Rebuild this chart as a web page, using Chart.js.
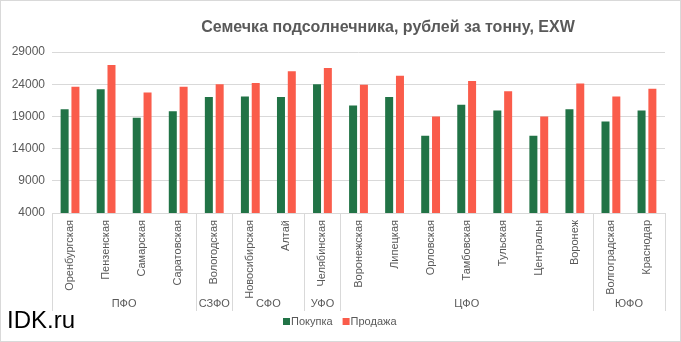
<!DOCTYPE html>
<html>
<head>
<meta charset="utf-8">
<script src="https://cdn.jsdelivr.net/npm/chart.js@4/dist/chart.umd.min.js"></script>
<style>
  html, body { margin: 0; padding: 0; background: #fff; }
  #wrap { width: 681px; height: 342px; position: relative; }
</style>
</head>
<body>
<div id="wrap"><canvas id="c"></canvas></div>
<script>
/* Семечка подсолнечника — покупка / продажа по регионам, EXW */
var TITLE = 'Семечка подсолнечника, рублей за тонну, EXW';
var regions = ['Оренбургская', 'Пензенская', 'Самарская', 'Саратовская', 'Вологодская',
  'Новосибирская', 'Алтай', 'Челябинская', 'Воронежская', 'Липецкая', 'Орловская',
  'Тамбовская', 'Тульская', 'Центральн', 'Воронеж', 'Волгоградская', 'Краснодар'];
var districts = ['ПФО', 'СЗФО', 'СФО', 'УФО', 'ЦФО', 'ЮФО'];
var districtSizes = [4, 1, 2, 1, 7, 2];
var buyPrices = [20100, 23200, 18800, 19800, 22000, 22100, 22000, 24000, 20700, 22000,
  16000, 20800, 19900, 16000, 20100, 18200, 19900];
var sellPrices = [23600, 27000, 22700, 23600, 24000, 24200, 26000, 26500, 23900, 25300,
  19000, 24500, 22900, 19000, 24100, 22100, 23300];
var yTicks = [4000, 9000, 14000, 19000, 24000, 29000];

var FONT = '"Liberation Sans", Arial, sans-serif';
var INK = { text: '#595959', grid: '#d9d9d9', buy: '#217346', sell: '#fa5c4b' };

Chart.defaults.font.family = FONT;
Chart.defaults.color = INK.text;

// title, rotated region names, district row, separators, legend, watermark, frame
Chart.register({
  id: 'excelDecor',
  afterDraw: function (chart) {
    var ctx = chart.ctx, x = chart.scales.x, area = chart.chartArea;
    var half = (x.getPixelForValue(1) - x.getPixelForValue(0)) / 2;
    ctx.save();

    ctx.fillStyle = INK.text;
    ctx.font = 'bold 16px ' + FONT;
    ctx.textAlign = 'center';
    ctx.textBaseline = 'middle';
    ctx.fillText(TITLE, 388, 28);

    // region names, read bottom-to-top, hanging from the axis
    ctx.font = '11px ' + FONT;
    regions.forEach(function (name, i) {
      ctx.save();
      ctx.translate(x.getPixelForValue(i), area.bottom + 7);
      ctx.rotate(-Math.PI / 2);
      ctx.textAlign = 'right';
      ctx.fillText(name, 0, 0);
      ctx.restore();
    });

    // district separators + labels
    ctx.strokeStyle = INK.grid;
    ctx.lineWidth = 1;
    var start = 0;
    var edges = [x.getPixelForValue(0) - half];
    districts.forEach(function (d, i) {
      var end = start + districtSizes[i] - 1;
      var l = x.getPixelForValue(start) - half, r = x.getPixelForValue(end) + half;
      edges.push(r);
      ctx.fillText(d, (l + r) / 2, 304);
      start = end + 1;
    });
    edges.forEach(function (e) {
      var px = Math.round(e) + 0.5;
      ctx.beginPath();
      ctx.moveTo(px, area.bottom);
      ctx.lineTo(px, 311);
      ctx.stroke();
    });

    // legend
    var lx = 283;
    chart.data.datasets.forEach(function (ds) {
      ctx.fillStyle = ds.backgroundColor;
      ctx.fillRect(lx, 318, 7, 7);
      ctx.fillStyle = INK.text;
      ctx.textAlign = 'left';
      ctx.fillText(ds.label, lx + 8, 322);
      lx += 8 + ctx.measureText(ds.label).width + 10;
    });

    // watermark
    ctx.fillStyle = '#000';
    ctx.font = '24px ' + FONT;
    ctx.textAlign = 'left';
    ctx.fillText('IDK.ru', 7, 321);

    ctx.strokeStyle = INK.grid;
    ctx.strokeRect(0.5, 0.5, chart.width - 1, chart.height - 1);
    ctx.restore();
  }
});

new Chart(document.getElementById('c').getContext('2d'), {
  type: 'bar',
  data: {
    labels: regions,
    datasets: [
      { label: 'Покупка', data: buyPrices, backgroundColor: INK.buy,
        categoryPercentage: 0.6, barPercentage: 0.74 },
      { label: 'Продажа', data: sellPrices, backgroundColor: INK.sell,
        categoryPercentage: 0.6, barPercentage: 0.74 }
    ]
  },
  options: {
    responsive: true,
    maintainAspectRatio: false,
    animation: false,
    layout: { padding: { top: 52, right: 16, left: 0, bottom: 0 } },
    plugins: { legend: { display: false }, tooltip: { enabled: false } },
    scales: {
      x: {
        grid: { display: false },
        border: { color: INK.grid },
        afterFit: function (s) { s.height = 129; },
        ticks: { display: false }
      },
      y: {
        min: yTicks[0], max: yTicks[yTicks.length - 1],
        afterFit: function (s) { s.width = 52; },
        afterBuildTicks: function (s) { s.ticks = yTicks.map(function (v) { return { value: v }; }); },
        grid: { color: INK.grid, drawTicks: false },
        border: { display: false },
        ticks: { padding: 7, color: INK.text, font: { size: 12 },
                 callback: function (v) { return String(v); } }
      }
    }
  }
});
</script>
</body>
</html>
